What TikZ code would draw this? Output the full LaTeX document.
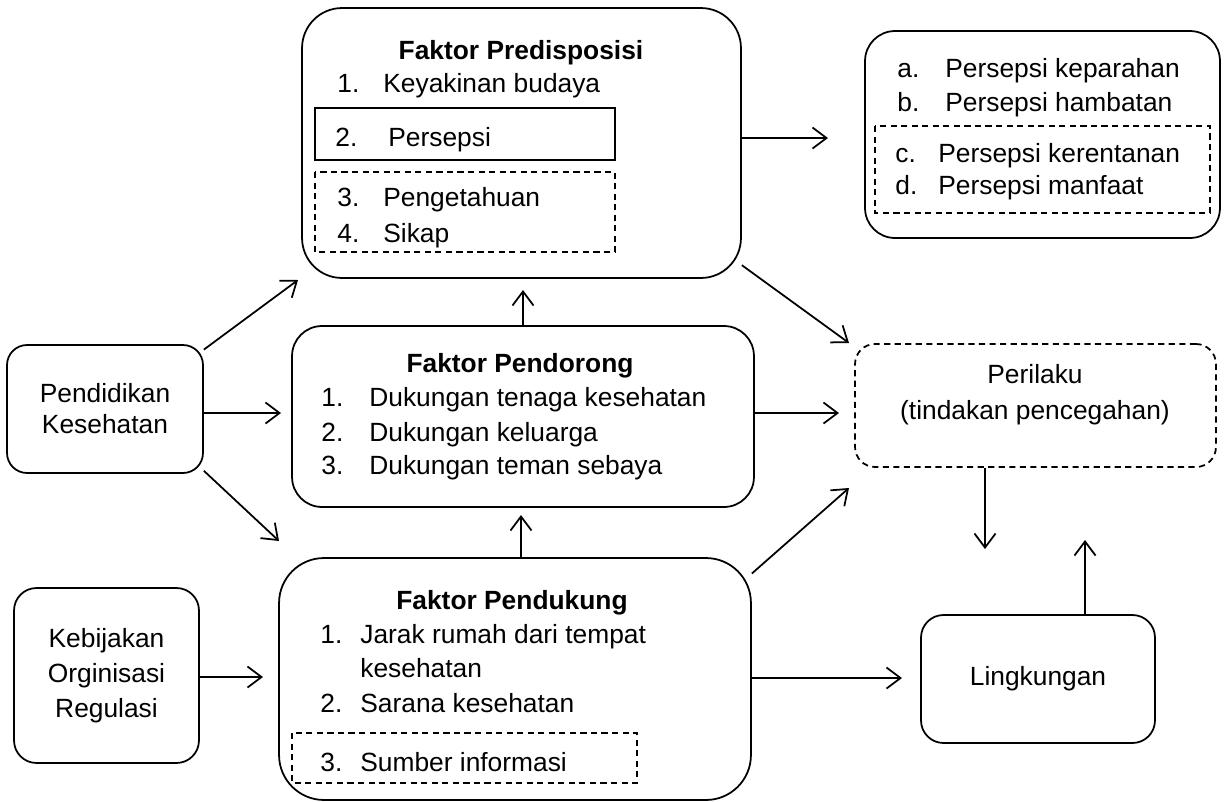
\documentclass[tikz,border=0pt]{standalone}
\usepackage{fontspec}
\setmainfont{Liberation Sans}
\usetikzlibrary{arrows.meta,positioning}
\tikzset{
  box/.style={draw,line width=1pt,rounded corners=#1,inner sep=0pt,align=center},
  box/.default=0.5cm,
  dashbox/.style={box=#1,dash pattern=on 3.5pt off 2.5pt},
  subbox/.style={draw,line width=1pt},
  subdash/.style={subbox,dash pattern=on 3.5pt off 2.5pt},
  item/.style={anchor=base west,inner sep=0pt},
  title/.style={anchor=base,inner sep=0pt,font=\fontsize{15}{18}\selectfont\bfseries},
  arr/.style={-{Straight Barb[length=8pt,width=12pt]},line width=1pt,line join=round}
}
\begin{document}
\begin{tikzpicture}[x=0.02cm,y=-0.02cm,font=\fontsize{15}{18}\selectfont]
\useasboundingbox (0,0) rectangle (1232,802);
% the boxes
\node[box=0.8cm,minimum width=8.78cm,minimum height=5.4cm] (pred) at (521.5,143) {};
\node[box=0.6cm,minimum width=7.1cm,minimum height=4.14cm] (pers) at (1042.5,134.5) {};
\node[box=0.4cm,minimum width=3.92cm,minimum height=2.56cm,font=\fontsize{15}{17.6}\selectfont] (didik) at (105,409) {Pendidikan\\Kesehatan};
\node[box=0.6cm,minimum width=9.24cm,minimum height=3.62cm] (dorong) at (523,416.5) {};
\node[dashbox=0.4cm,minimum width=7.22cm,minimum height=2.46cm] (laku) at (1035.5,405.5) {};
\node[box=0.45cm,minimum width=3.7cm,minimum height=3.5cm,font=\fontsize{15}{20}\selectfont] (bijak) at (106.5,675.5) {Kebijakan\\Orginisasi\\Regulasi};
\node[box=0.9cm,minimum width=9.44cm,minimum height=4.84cm] (dukung) at (515,679) {};
\node[box=0.45cm,minimum width=4.68cm,minimum height=2.56cm] (lingk) at (1038,679) {Lingkungan};

% faktor predisposisi
\node[title] (predtitle) at (521,59) {Faktor Predisposisi};
\draw[subbox] (315,108) rectangle (615,160);
\draw[subdash] (315,172) rectangle (615,252);
\foreach \k/\txt/\yy in {1/Keyakinan budaya/92,3/Pengetahuan/206,4/Sikap/242}
  {\node[item] (predn\k) at (337,\yy) {\k.}; \node[item] (predt\k) at (383,\yy) {\txt};}
\node[item] (predn2) at (335,146) {2.};
\node[item] (predt2) at (388,146) {Persepsi};

% persepsi a-d
\draw[subdash] (875,126) rectangle (1210,213);
\foreach \k/\txt/\yy in {a/keparahan/77,b/hambatan/111}
  {\node[item] (persn\k) at (897,\yy) {\k.}; \node[item] (perst\k) at (945,\yy) {Persepsi \txt};}
\foreach \k/\txt/\yy in {c/kerentanan/162,d/manfaat/194}
  {\node[item] (persn\k) at (895,\yy) {\k.}; \node[item] (perst\k) at (938,\yy) {Persepsi \txt};}

% faktor pendorong
\node[title] (dorongtitle) at (520,372) {Faktor Pendorong};
\foreach \k/\txt/\yy in {1/tenaga kesehatan/406,2/keluarga/441,3/teman sebaya/474}
  {\node[item] (dorongn\k) at (321,\yy) {\k.}; \node[item] (dorongt\k) at (369,\yy) {Dukungan \txt};}

% perilaku
\node[align=center,inner sep=0pt,font=\fontsize{15}{20.4}\selectfont] (lakutext) at (1035,395) {Perilaku\\(tindakan pencegahan)};

% faktor pendukung
\node[title] (dukungtitle) at (512,609) {Faktor Pendukung};
\node[item] (dukungn1) at (320,643) {1.};
\node[item] (dukungt1) at (360,643) {Jarak rumah dari tempat};
\node[item] (dukungt1b) at (360,677) {kesehatan};
\node[item] (dukungn2) at (320,712) {2.};
\node[item] (dukungt2) at (360,712) {Sarana kesehatan};
\draw[subdash] (292,733) rectangle (637,783);
\node[item] (dukungn3) at (320,771) {3.};
\node[item] (dukungt3) at (360,771) {Sumber informasi};

% arrow tips
\coordinate (tipA) at (828,138);
\coordinate (tipB) at (298,280);
\coordinate (tipC) at (281,413);
\coordinate (tipD) at (279,541);
\coordinate (tipE) at (523,290);
\coordinate (tipF) at (521,515);
\coordinate (tipG) at (839,413);
\coordinate (tipH) at (849,343);
\coordinate (tipI) at (849,488);
\coordinate (tipJ) at (985,549);
\coordinate (tipK) at (1085,540);
\coordinate (tipL) at (263,677);
\coordinate (tipM) at (902,678);

% the arrows
\draw[arr] (pred.east |- tipA) -- (tipA);
\draw[arr] (didik.31) -- (tipB);
\draw[arr] (didik.east |- tipC) -- (tipC);
\draw[arr] (didik.-32) -- (tipD);
\draw[arr] (dorong.north) -- (tipE);
\draw[arr] (tipF |- dukung.north) -- (tipF);
\draw[arr] (dorong.east |- tipG) -- (tipG);
\draw[arr] (pred.-29) -- (tipH);
\draw[arr] (dukung.24) -- (tipI);
\draw[arr] (tipJ |- laku.south) -- (tipJ);
\draw[arr] (tipK |- lingk.north) -- (tipK);
\draw[arr] (bijak.east |- tipL) -- (tipL);
\draw[arr] (dukung.east |- tipM) -- (tipM);
\end{tikzpicture}
\end{document}
